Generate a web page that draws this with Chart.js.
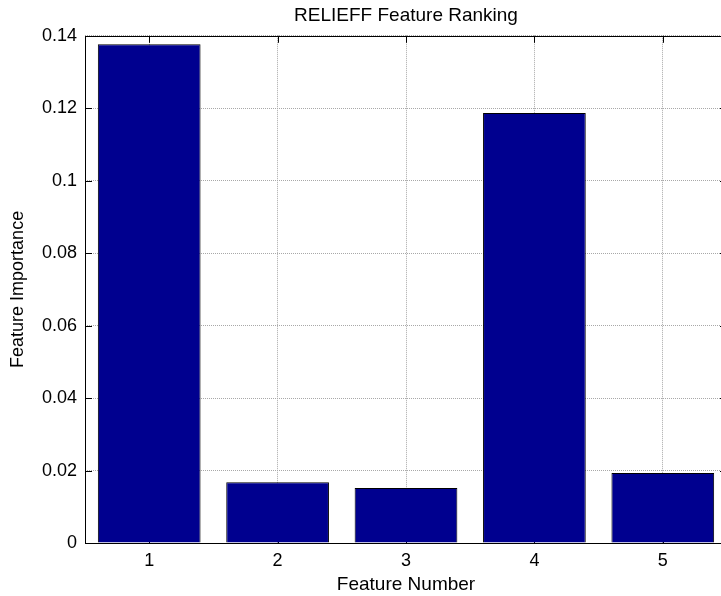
<!DOCTYPE html>
<html lang="en">
<head>
  <meta charset="UTF-8">
  <title>RELIEFF Feature Ranking</title>
  <style>
    html, body { margin: 0; padding: 0; background: #fff; overflow: hidden; }
    #frame { width: 721px; height: 596px; overflow: hidden; position: relative; }
    #barChart { position: absolute; left: 0; top: 0; }
  </style>
</head>
<body>
  <div id="frame"><canvas id="barChart" width="728" height="596"></canvas></div>

  <script src="https://cdn.jsdelivr.net/npm/chart.js"></script>
  <script>
    const features = ['1', '2', '3', '4', '5'];
    const importance = [0.1377, 0.0168, 0.0152, 0.1187, 0.0193];
    const yTicks = [0, 0.02, 0.04, 0.06, 0.08, 0.1, 0.12, 0.14];
    const yTickLabels = ['0', '0.02', '0.04', '0.06', '0.08', '0.1', '0.12', '0.14'];

    const tickFont = { family: "'Liberation Sans', Arial, sans-serif", size: 18 };
    const labelFont = { family: "'Liberation Sans', Arial, sans-serif", size: 19 };

    // axes box plus short inward tick marks on all four sides
    const axesBox = {
      id: 'axesBox',
      beforeDatasetsDraw(chart) {
        const { ctx, chartArea: a, scales } = chart;
        const len = 7;
        ctx.save();
        ctx.strokeStyle = '#000';
        ctx.lineWidth = 1;
        ctx.beginPath();
        yTicks.forEach(v => {
          const y = Math.round(scales.y.getPixelForValue(v)) + 0.5;
          ctx.moveTo(a.left, y); ctx.lineTo(a.left + len, y);
          ctx.moveTo(a.right, y); ctx.lineTo(a.right - len, y);
        });
        features.forEach((f, i) => {
          const x = Math.round(scales.x.getPixelForTick(i)) + 0.5;
          ctx.moveTo(x, a.top); ctx.lineTo(x, a.top + len);
          ctx.moveTo(x, a.bottom); ctx.lineTo(x, a.bottom - len);
        });
        ctx.stroke();
        ctx.restore();
      },
      afterDraw(chart) {
        const { ctx, chartArea: a } = chart;
        ctx.save();
        ctx.strokeStyle = '#000';
        ctx.lineWidth = 1;
        ctx.strokeRect(Math.round(a.left) + 0.5, Math.round(a.top) + 0.5,
          Math.round(a.right - a.left), Math.round(a.bottom - a.top));
        ctx.restore();
      }
    };

    new Chart(document.getElementById('barChart'), {
      type: 'bar',
      data: {
        labels: features,
        datasets: [{
          data: importance,
          backgroundColor: '#00008f',
          borderColor: '#000',
          borderWidth: 1,
          barPercentage: 0.8,
          categoryPercentage: 1.0
        }]
      },
      options: {
        responsive: false,
        animation: false,
        layout: { padding: { left: 0, right: 1, top: 0, bottom: 0 } },
        plugins: {
          legend: { display: false },
          tooltip: { enabled: false },
          title: {
            display: true,
            fullSize: false,
            text: 'RELIEFF Feature Ranking',
            color: '#000',
            font: { ...labelFont, weight: 'normal' },
            padding: { top: 4, bottom: 9 }
          }
        },
        scales: {
          x: {
            offset: true,
            grid: { offset: false, color: '#a8a8a8', drawTicks: false },
            border: { display: false, dash: [1, 1] },
            ticks: { color: '#000', font: tickFont, padding: 7 },
            title: {
              display: true,
              text: 'Feature Number',
              color: '#000',
              font: labelFont,
              padding: { top: 0, bottom: 0 }
            },
            afterFit(scale) { scale.height = 53; }
          },
          y: {
            min: 0,
            max: 0.14,
            afterBuildTicks(scale) { scale.ticks = yTicks.map(v => ({ value: v })); },
            grid: { color: '#a8a8a8', drawTicks: false },
            border: { display: false, dash: [1, 1] },
            ticks: {
              color: '#000',
              font: tickFont,
              padding: 8,
              callback: (v, i) => yTickLabels[i]
            },
            title: {
              display: true,
              text: 'Feature Importance',
              color: '#000',
              font: tickFont,
              padding: { top: 7, bottom: 0 }
            },
            afterFit(scale) { scale.width = 85; }
          }
        }
      },
      plugins: [axesBox]
    });
  </script>
</body>
</html>
